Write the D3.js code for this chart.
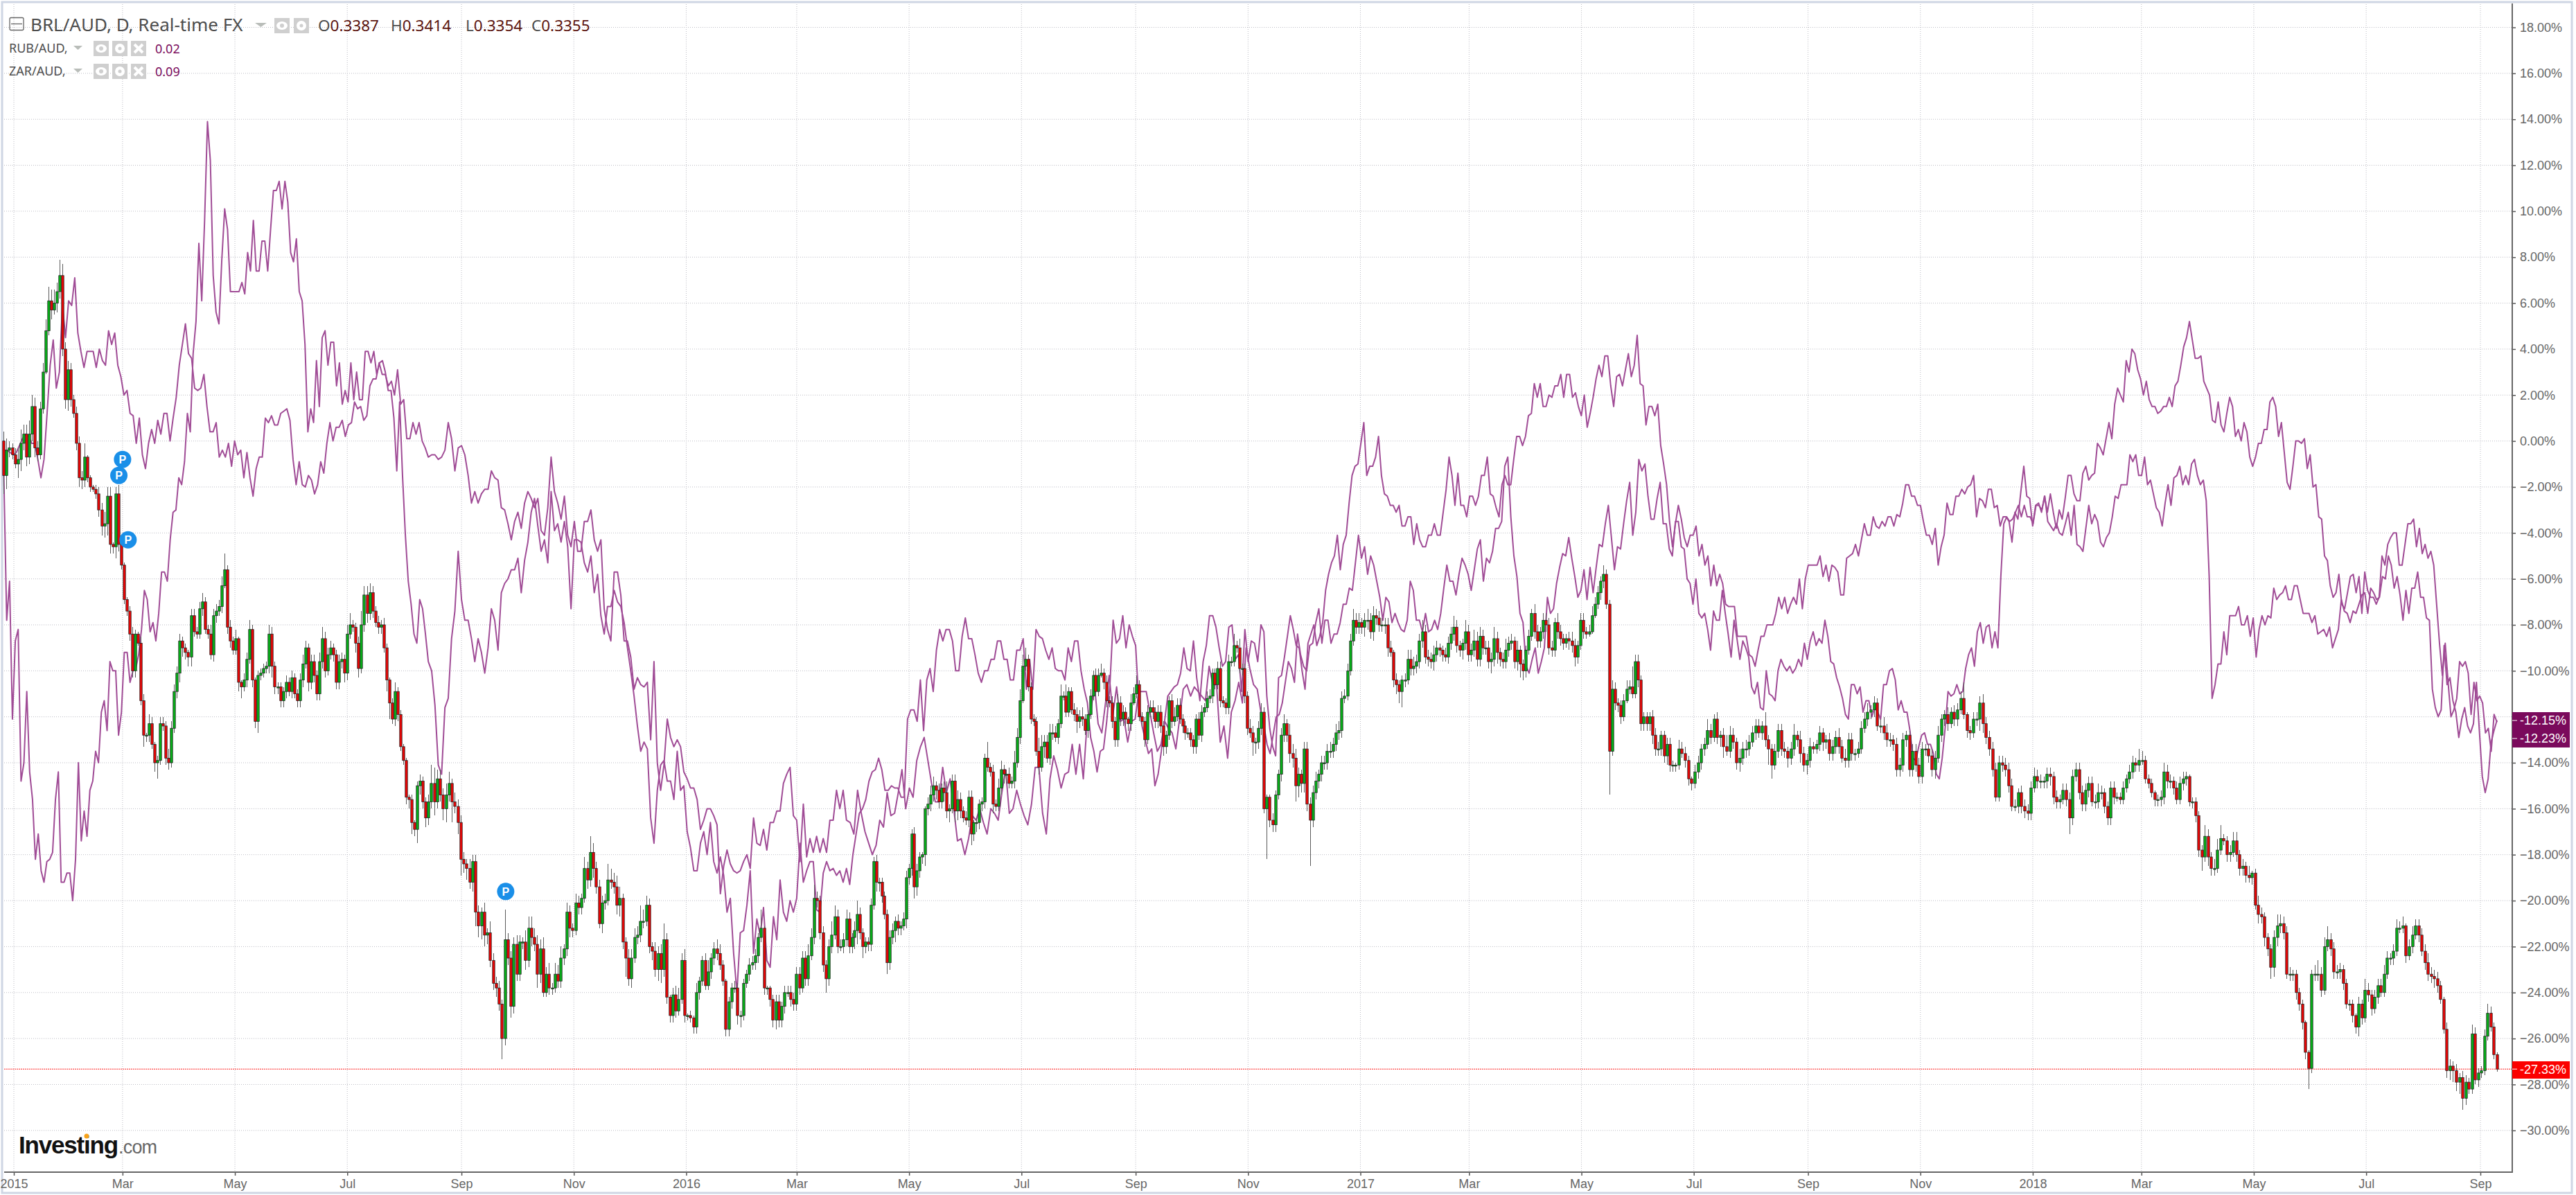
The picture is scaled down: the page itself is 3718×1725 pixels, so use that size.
<!DOCTYPE html>
<html>
<head>
<meta charset="utf-8">
<title>BRL/AUD</title>
<script src="https://cdnjs.cloudflare.com/ajax/libs/d3/7.8.5/d3.min.js"></script>
<style>
html,body{margin:0;padding:0;background:#fff;overflow:hidden}
svg{display:block}
</style>
</head>
<body>
<script>
// chart is read in six stretches, each pinned between two dates
var segDates=["2014-12-25","2015-08-14","2016-03-28","2016-11-08","2017-06-21","2018-02-02","2018-09-10"];

var tickDates=["2015-01-01","2015-03-01","2015-05-01","2015-07-01","2015-09-01","2015-11-01","2016-01-01","2016-03-01","2016-05-01","2016-07-01","2016-09-01","2016-11-01","2017-01-01","2017-03-01","2017-05-01","2017-07-01","2017-09-01","2017-11-01","2018-01-01","2018-03-01","2018-05-01","2018-07-01","2018-09-01"];
var tickLabels=["2015","Mar","May","Jul","Sep","Nov","2016","Mar","May","Jul","Sep","Nov","2017","Mar","May","Jul","Sep","Nov","2018","Mar","May","Jul","Sep"];
var pctTicks=[18,16,14,12,10,8,6,4,2,0,-2,-4,-6,-8,-10,-12,-14,-16,-18,-20,-22,-24,-26,-28,-30];

// BRL/AUD daily closes, percent from the start
var closeSeg1=[-1.5,-.4,-.3,-.6,-1,-.8,-.1,.3,-.7,.3,
1.5,-.3,-.6,1.4,3,4.8,6.1,5.7,6,6.5,
7.2,4,1.8,3.1,1.8,1.2,-.1,-1.6,-1.7,-.7,
-1.6,-2,-2.1,-2.3,-3,-3.7,-3.6,-2.4,-4.5,-4.6,
-2.3,-4.5,-5.4,-6.9,-7.4,-8.4,-10,-8.4,-8.8,-11.3,
-12.8,-12.8,-12.3,-13.2,-14,-13.9,-12.3,-12.4,-13.8,-14,
-12.5,-10.9,-10.1,-8.7,-9,-9.2,-9.4,-7.6,-8.3,-8.4,
-7.3,-7,-8.2,-8.4,-9.3,-7.6,-7.4,-7.2,-6.3,-5.6,
-8.1,-8.7,-9.1,-8.6,-10.5,-10.7,-10.4,-9.5,-8.2,-10.4,
-12.2,-10.2,-10.1,-9.9,-9.8,-8.4,-9.8,-10.7,-10.7,-11.3,
-10.9,-10.5,-10.9,-10.3,-11,-11.3,-10.4,-9.7,-9,-10.5,
-9.6,-10.2,-11,-9.6,-8.6,-10,-9.3,-9,-9.3,-10.5,
-9.6,-9.5,-10.1,-8.4,-8,-8.1,-8.8,-9.9,-8,-6.7,
-7.5,-6.6,-7.4,-7.9,-8.1,-8,-9,-10.4,-11.4,-12.1,
-10.9,-11.9,-13.3,-13.9,-15.5,-15.6,-16.6,-16.9,-15,-14.8,
-15.7,-16.4,-15.7];
var wickUpSeg1=[4,5,3,2,3,5,6,4,4,6,
5,4,3,3,4,5,6,5,6,4,
7,5,3,4,3,2,3,3,3,6,
1,1,1,2,3,3,5,4,4,1,
3,4,2,1,1,2,3,2,1,3,
3,1,4,3,1,2,3,3,2,4,
3,3,3,3,2,2,1,3,3,2,
3,4,2,2,4,3,3,3,4,7,
2,3,2,4,1,1,3,3,4,2,
1,2,2,2,2,4,3,2,2,2,
2,3,2,3,2,2,3,4,3,2,
3,3,2,4,5,3,3,3,2,2,
3,3,2,4,5,2,2,3,6,4,
4,4,3,2,3,2,3,2,1,2,
4,2,2,1,1,1,2,1,2,3,
2,2,3];
var wickDnSeg1=[8,6,3,2,2,6,5,3,4,3,
3,4,3,2,2,1,2,4,2,4,
3,3,4,5,3,2,3,4,4,3,
2,2,1,2,3,4,5,5,4,3,
5,3,2,2,2,3,3,3,1,2,
5,3,3,2,4,7,2,2,3,3,
2,2,3,4,4,3,4,4,2,2,
2,3,2,2,2,3,3,2,3,1,
3,3,2,2,4,5,2,3,2,3,
3,5,2,2,2,3,5,3,3,3,
3,3,2,3,2,3,3,3,2,4,
3,3,3,3,3,3,2,2,3,3,
3,3,4,3,2,2,4,4,2,3,
4,3,3,2,3,3,2,5,7,2,
3,3,2,2,3,4,5,3,6,4,
3,4,3];

var closeSeg2=[-14.9,-15.7,-14.7,-15.4,-16,-15.4,-14.9,-15.7,-15.9,-16.6,
-18.2,-18.4,-18.6,-19.2,-18.3,-20.5,-21.1,-20.5,-21.5,-21.4,
-22.6,-23.6,-23.8,-24.5,-26,-21.7,-22.5,-24.6,-21.9,-23.2,
-21.8,-21.8,-22.6,-21.2,-21.6,-21.9,-23.2,-22.1,-24,-23.2,
-23.8,-23.8,-23.2,-23.5,-22.5,-22.1,-20.5,-21.2,-21.3,-20.1,
-20.3,-19.9,-18.6,-19.1,-17.9,-18.6,-19.4,-21,-20.1,-20,
-19.1,-19.2,-19.4,-20.2,-19.9,-21.8,-22.5,-23.4,-22.5,-21.6,
-21.5,-20.9,-20.9,-20.2,-22,-22.2,-23,-22.3,-23,-21.7,
-24.2,-25,-24.1,-24.8,-24.3,-22.6,-25,-25,-25.1,-25.5,
-24,-23.5,-22.6,-23.7,-23.1,-22.5,-22.1,-22.3,-22.8,-23.5,
-25.6,-24.4,-23.8,-23.8,-25,-25,-23.6,-23.2,-22.8,-22.7,
-22.4,-21.6,-21.2,-23.8,-23.8,-24.3,-25.2,-24.4,-25.2,-24.6,
-24,-24,-24.3,-24.5,-23.2,-23.8,-22.5,-23.4,-22.4,-21.6,
-19.9,-20,-21.4,-22.8,-23.4,-22,-21.5,-20.7,-22,-22,
-21.7,-20.8];
var wickUpSeg2=[8,7,4,4,3,5,5,2,4,3,
3,3,2,4,3,3,3,2,4,2,
5,3,3,3,2,13,3,3,3,4,
3,2,5,5,5,4,4,4,5,3,
5,2,5,4,5,2,4,3,2,4,
3,2,5,3,7,4,3,3,3,3,
7,5,4,5,5,2,2,4,4,4,
4,7,5,4,3,2,4,3,4,7,
3,1,3,4,5,3,5,1,2,1,
4,2,2,3,5,2,3,4,4,2,
1,2,2,3,2,2,2,2,3,3,
3,2,8,1,1,1,2,3,3,2,
3,3,3,3,3,3,3,3,5,4,
6,3,2,3,2,3,6,5,3,3,
3,4];
var wickDnSeg2=[3,6,3,3,5,6,3,9,3,5,
7,4,5,3,4,6,5,6,5,4,
3,3,4,3,9,3,3,5,3,3,
3,3,4,3,4,3,6,4,2,2,
3,3,2,3,3,3,3,4,3,2,
3,3,2,4,3,4,3,2,4,3,
2,3,3,4,5,3,8,3,4,2,
3,3,3,2,3,4,3,5,6,3,
3,3,3,3,2,2,3,2,2,3,
3,3,2,2,2,3,3,3,2,2,
3,3,3,2,4,5,2,2,3,2,
3,3,2,3,3,3,3,4,3,3,
3,2,3,3,3,3,2,3,3,2,
3,3,3,3,6,3,3,2,3,2,
3,3];

var closeSeg3=[-22,-21.6,-21.3,-20.6,-21.4,-22,-21.8,-21.9,-20.2,-18.3,
-19.2,-19.2,-19.8,-20.6,-22.7,-21.6,-21.3,-20.9,-21.2,-21.1,
-20.8,-19,-18.6,-17.1,-19.4,-18.7,-18.1,-18,-16,-15.8,
-15.4,-15,-15.2,-15.7,-15.1,-15.3,-16.1,-16,-14.8,-16.1,
-15.6,-16.1,-16.4,-16.5,-15.5,-17.1,-16.6,-16.6,-15.8,-15.7,
-13.8,-14.2,-14.4,-15.8,-15.9,-15.1,-14.3,-14.5,-14.5,-14.9,
-14.8,-14,-12.9,-11.3,-9.8,-9.5,-10.7,-12.1,-12.2,-13.5,
-14.2,-13.3,-13.1,-13.8,-12.7,-12.7,-12.9,-12.3,-11.1,-11.1,
-11.8,-10.9,-11.7,-11.9,-12.2,-12,-12.1,-12.6,-11.9,-11.1,
-10.2,-10.9,-10.2,-10.1,-10.5,-11.3,-11.4,-12.2,-13,-11.4,
-12.1,-11.8,-12.1,-12.3,-11.4,-11,-10.6,-12,-12.2,-13,
-11.8,-11.6,-11.8,-12.2,-11.8,-12.4,-13.3,-12.8,-11.3,-12.2,
-12,-11.5,-12.1,-12.4,-12.7,-12.7,-13,-13.3,-12.1,-12.8,
-11.8,-11.6,-11.2,-11.1,-10.1,-10.6,-9.9,-11.3,-11.4,-11.6,
-9.6,-9.6,-8.9,-9,-9.9,-9.9,-11.1,-12.5,-12.7,-13.1,
-13.1,-12.5,-11.8];
var wickUpSeg3=[3,2,4,6,3,2,2,2,3,2,
3,2,2,2,2,3,3,2,3,2,
3,3,2,2,3,3,2,1,1,3,
4,4,2,3,2,3,5,2,3,3,
4,3,2,3,3,3,1,2,2,2,
2,7,2,3,2,4,4,2,2,3,
2,5,4,5,5,5,2,2,2,2,
6,5,3,3,4,4,3,2,5,2,
5,2,2,3,3,3,4,2,2,3,
2,3,3,4,2,3,2,3,2,4,
3,3,2,1,4,3,4,2,2,2,
3,3,3,2,3,3,2,2,2,3,
4,3,3,2,2,2,2,2,2,3,
3,2,3,3,2,2,3,3,2,2,
3,2,5,2,4,2,2,2,4,3,
2,3,4];
var wickDnSeg3=[3,3,5,6,3,5,3,3,3,2,
4,4,3,2,5,3,3,5,3,3,
2,4,3,3,5,4,3,3,5,3,
3,3,4,3,3,4,3,5,2,5,
4,3,2,2,3,5,3,4,3,3,
3,2,2,4,2,2,3,4,4,2,
2,3,2,3,1,2,2,2,2,2,
3,2,5,2,3,3,2,3,2,2,
2,2,2,3,5,3,3,2,3,2,
2,2,2,1,3,3,2,3,3,3,
3,3,3,3,3,1,2,2,2,3,
2,2,3,3,3,3,4,3,2,3,
2,2,2,3,3,2,3,3,3,2,
3,2,2,2,3,2,2,3,2,3,
3,2,2,2,2,3,3,3,2,6,
5,3,3];

var closeSeg4=[-16,-15.5,-16.5,-16.7,-15.4,-14.5,-12.8,-12.3,-12.8,-13.6,
-13.8,-15,-14.5,-14.9,-13.4,-15.8,-16.5,-15.3,-14.8,-14.5,
-14,-14,-13.5,-13.5,-13.2,-12.7,-12.6,-11.2,-11.1,-10,
-8.7,-7.8,-8.1,-7.9,-8.1,-7.8,-7.8,-8.3,-7.6,-7.7,
-8,-8,-8,-9,-9.2,-10.4,-10.6,-10.9,-10.4,-10.4,
-9.5,-9.9,-9.8,-9.6,-8.7,-8.3,-9.4,-9.5,-9.6,-9.3,
-9,-9.1,-9.3,-9.4,-8.8,-8.4,-8.1,-8.9,-9.1,-8.8,
-8.3,-9.3,-9.1,-8.7,-9.5,-8.5,-9,-9,-9.6,-9.5,
-8.6,-9.2,-9.5,-9.6,-9.1,-8.8,-8.7,-9.6,-9.1,-9.7,
-10,-9.1,-8.5,-7.5,-8.3,-8.7,-8.3,-7.8,-8,-9,
-9.1,-7.9,-8.3,-8.6,-8.8,-8.6,-8.7,-8.9,-9.4,-8.9,
-7.8,-8.3,-8.4,-8.3,-7.6,-7.1,-6.6,-6.1,-5.8,-7.1,
-13.5,-10.8,-11.4,-11.5,-12,-11.3,-10.8,-10.7,-11,-9.6,
-10.4,-12.3,-12,-12.3,-12,-12.8,-13.4,-13.4,-12.8,-13.7,
-13.2,-14.1,-14.1,-14.1];
var wickUpSeg4=[2,1,1,3,2,2,3,4,2,5,
4,4,3,2,3,3,3,3,4,2,
3,3,3,4,3,4,4,3,3,3,
3,5,3,4,2,3,5,3,4,3,
3,3,3,3,3,1,3,2,2,3,
4,4,4,3,3,5,3,3,3,4,
3,2,2,3,3,3,5,3,2,2,
5,3,3,5,4,4,3,3,3,3,
5,3,2,3,5,3,3,2,4,2,
2,2,3,2,4,3,2,3,3,3,
3,2,4,3,2,2,3,4,3,2,
3,3,2,3,4,3,3,2,4,2,
2,4,3,2,2,3,4,3,9,3,
3,2,2,2,2,3,3,3,2,2,
3,3,2,1];
var wickDnSeg4=[2,22,3,3,3,2,3,3,3,4,
4,7,5,4,4,3,20,3,3,3,
3,3,3,3,3,3,3,3,2,2,
2,2,3,3,3,4,4,3,4,3,
3,3,4,4,2,3,4,5,7,3,
2,3,3,3,3,3,3,3,3,4,
3,3,3,2,3,3,3,3,3,4,
3,3,3,3,3,3,3,3,3,5,
3,5,3,3,3,3,3,3,4,6,
4,3,2,2,3,3,3,3,3,3,
3,3,3,3,3,2,4,3,4,3,
2,3,2,1,1,1,2,3,3,2,
19,2,3,3,3,2,1,2,2,2,
3,3,3,3,3,4,3,3,3,3,
4,3,3,3];

var closeSeg5=[-13.4,-13.6,-13.9,-14.7,-14.9,-14.4,-14,-13.4,-13.2,-12.6,
-12.9,-12.1,-12.9,-12.8,-13.3,-13.5,-12.8,-13.1,-14,-13.8,
-13.4,-13.4,-13.1,-12.7,-12.4,-12.7,-12.4,-13,-13.4,-14.1,
-13.5,-12.6,-13.4,-13.5,-13.8,-13.4,-12.8,-13,-13.6,-14.1,
-13.9,-13.3,-13.4,-13.2,-12.7,-13.1,-13,-13.6,-13.3,-12.9,
-13.3,-13.8,-13.9,-13,-13.6,-13.6,-13.4,-12.5,-12.1,-11.8,
-11.7,-11.4,-12.4,-12.4,-12.7,-13,-13,-13.2,-14.3,-14.1,
-13,-12.8,-14.3,-13.5,-14.1,-14.6,-13.4,-13.4,-13.7,-14.3,
-13.8,-12.8,-12.1,-11.9,-12.3,-11.8,-12.1,-11.7,-11.2,-11.9,
-12.6,-12.7,-12.1,-12.1,-11.4,-12.3,-12.9,-13.4,-14.3,-15.5,
-14,-14.1,-14.3,-15,-15.9,-15.9,-15.3,-15.9,-16.1,-16.2,
-15.1,-14.6,-14.8,-14.8,-14.8,-14.5,-14.6,-15.5,-15.7,-15.6,
-15.2,-15.6,-16.4,-14.6,-14.3,-15.3,-15.8,-15.2,-14.9,-15.7];
var wickUpSeg5=[4,3,3,2,1,3,3,2,3,5,
3,2,3,2,3,5,4,3,2,4,
3,4,3,3,3,3,2,6,2,2,
3,3,3,3,2,3,5,2,4,3,
3,4,2,2,3,2,2,3,3,3,
4,3,4,3,3,2,3,3,3,4,
2,3,2,3,4,4,3,2,3,3,
3,2,2,3,3,3,3,2,2,3,
3,4,2,2,3,2,3,3,3,7,
1,2,3,3,3,4,3,3,3,3,
3,3,3,3,3,3,2,3,3,3,
3,4,3,3,2,3,3,2,3,2,
3,3,3,3,3,3,3,3,3,3];
var wickDnSeg5=[2,2,3,3,3,2,3,3,3,2,
3,2,3,4,5,2,3,3,3,4,
3,4,3,2,3,2,3,3,7,6,
2,3,3,3,4,3,3,3,4,3,
4,3,2,2,3,4,3,3,3,3,
3,2,3,3,3,3,2,2,2,3,
3,3,2,3,3,3,3,3,3,3,
3,3,3,3,3,3,3,3,3,3,
4,2,3,3,3,2,3,3,2,2,
3,3,2,3,5,4,3,3,3,2,
2,3,3,3,2,2,3,3,3,3,
3,2,3,3,3,3,4,3,3,3,
2,3,7,3,2,3,3,3,3,2];

var closeSeg6=[-15.7,-15.3,-15.3,-15.9,-16.4,-15.1,-15.5,-15.5,-15.6,-15.1,
-14.7,-14.4,-14,-14.1,-13.9,-13.9,-14.7,-14.9,-15.3,-15.6,
-15.6,-15.5,-14.4,-14.8,-14.8,-15.1,-15.6,-14.9,-14.7,-14.6,
-15.7,-15.7,-16.3,-17.8,-18.1,-17.2,-18.1,-18.6,-18.6,-17.8,
-17.3,-17.4,-18,-17.9,-17.4,-18,-18.6,-18.5,-18.9,-19,
-18.8,-20.2,-20.6,-20.7,-21.6,-22.1,-22.9,-21.6,-21.1,-21,
-21.4,-23.2,-23.2,-23.2,-24,-24.5,-25.3,-26.6,-27.3,-23.2,
-23.2,-23.2,-23.9,-22,-21.7,-22.1,-23.1,-23.1,-23,-23.6,
-24.5,-24.5,-25,-25.5,-24.5,-25.1,-23.9,-24.1,-24.7,-24.2,
-23.7,-24,-23.2,-22.5,-22.5,-22.2,-21.2,-21.2,-21.1,-22.4,
-22,-21.5,-21.1,-21.5,-22.2,-22.7,-23.2,-23.3,-23.4,-23.7,
-24.3,-25.6,-27.4,-27.2,-27.4,-27.9,-27.7,-28.6,-27.9,-28.2,
-25.8,-27.8,-27.5,-27.4,-25.9,-24.9,-25.5,-26.7,-27.33];
var wickUpSeg6=[3,4,3,2,2,3,3,2,2,3,
2,3,3,2,5,4,2,2,2,1,
2,3,4,3,3,2,3,3,3,2,
1,2,2,2,2,5,3,2,4,5,
6,2,2,3,4,4,2,3,2,4,
1,2,4,3,2,2,2,3,5,4,
3,3,3,2,2,2,2,1,1,2,
4,6,3,4,6,3,3,3,3,2,
2,2,2,1,3,2,5,3,2,3,
3,3,4,3,2,3,4,3,4,1,
3,4,3,3,3,3,4,3,3,3,
2,1,3,3,2,3,2,3,3,2,
4,3,2,2,3,4,3,2,1];
var wickDnSeg6=[3,3,3,3,3,3,3,2,2,2,
2,2,3,3,3,2,2,2,2,3,
3,3,3,3,3,3,2,2,3,3,
2,3,3,3,6,2,4,3,3,2,
2,2,3,3,2,3,3,3,3,2,
3,2,4,3,4,3,5,4,4,3,
3,2,3,3,3,3,3,3,9,2,
3,3,3,2,2,3,3,3,3,3,
2,3,3,3,4,3,2,3,3,2,
3,2,2,2,3,3,2,2,2,3,
2,3,2,3,2,3,3,3,4,3,
2,2,3,4,5,4,5,5,3,2,
2,2,3,2,2,2,2,2,1];

// RUB/AUD overlay
var rubSeg1=[-1.5,-7.8,-6.1,-12.1,-8.7,-8.2,-14.8,-14,-10.9,-14.4,
-15.6,-18.2,-17.1,-18.7,-19.2,-18.3,-18.2,-17.9,-15.6,-14.4,
-19.2,-19.2,-18.8,-18.8,-20,-18.2,-14,-17.4,-16.1,-17.2,
-15.2,-14.8,-13.5,-14,-11.8,-11.3,-12.6,-9.6,-10,-10,
-12.8,-11.8,-9.2,-9.2,-10.5,-10,-9.9,-9.3,-8.2,-6.5,
-6.9,-8.3,-7.9,-8.7,-7.5,-5.7,-5.7,-6.1,-4.3,-3.1,
-3,-1.6,-1.9,-.9,1.2,.4,3.8,5.2,8.6,6.1,
9.6,13.9,12.2,7.2,5.6,5.1,7.9,10.1,9.2,6.5,
6.5,6.5,6.5,6.9,6.4,8.2,7.4,9.6,7.4,7.4,
8.7,8.7,7.4,9.2,10.9,10.9,11.3,10.1,11.3,10.4,
8.2,7.8,8.8,6.5,6.1,4.2,.4,1.4,.8,3.5,
1.5,4.5,4.8,3.3,4.3,4.3,2.4,3.4,1.6,2.2,
1.7,3.4,1.8,3,1.8,1.8,3.9,3.9,3.4,3.9,
2.9,3.4,3.5,3,2.2,2.2,1,-1.3,1.7,-1.5,
-4.1,-6.1,-7.1,-8.4,-8.8,-6.9,-7.3,-8.4,-9.6];
var rubSeg2=[-10,-11.5,-14.1,-14.5,-11.6,-11.2,-8.6,-7.4,-4.8,-6.9,
-7.8,-7.8,-8.6,-9.6,-8.6,-9.2,-10.1,-9,-7.3,-7.8,
-9.1,-6.6,-6.2,-6,-5.6,-5.6,-5.1,-6.6,-5.2,-4.4,
-3.1,-2.5,-3.7,-4.8,-4.3,-5.3,-2.2,-3.9,-3.6,-4.4,
-3.5,-4.6,-7.3,-4.3,-4.3,-4.4,-5.3,-5.7,-5,-6.6,
-5.8,-7.6,-8.4,-7.2,-7.2,-6.5,-7,-7.2,-7.9,-9,
-10,-11.1,-12.4,-13.5,-13.1,-13.4,-16.4,-17.5,-15.2,-14.1,
-13.9,-14.8,-14.8,-15.6,-13.5,-15.2,-15,-17,-17.7,-18.7,
-18.7,-17.5,-17,-18,-16.6,-18.3,-18.8,-18.1,-18.9,-20.5,
-19.9,-22.3,-24,-21.4,-21.3,-20.2,-18.7,-22.3,-20.8,-21.5,
-20.3,-22.6,-22.9,-20.7,-21.7,-19.1,-20.5,-20.9,-20,-20.5,
-19.9,-17.5,-19.2,-18.7,-18.3,-18.3,-20.4,-20.5,-18.8,-18.3,
-18.7,-18.6,-18.9,-18.7,-19.2,-18.6];
var rubSeg3=[-19.3,-18,-17.1,-16.2,-16,-15.6,-14.8,-14.4,-14.3,-13.8,
-14.3,-15.2,-15.2,-15,-15.1,-15.1,-15.5,-15.5,-12.1,-11.7,
-11.7,-12.2,-10.4,-12.6,-10.4,-9.9,-10.9,-9.1,-8.2,-8.7,
-8.2,-8.2,-8.7,-10,-10,-8.5,-7.7,-8.6,-8.6,-9.3,
-10.1,-10.5,-10,-10,-9.5,-9.5,-8.7,-8.7,-9.5,-9.5,
-10.4,-10.4,-9.1,-9.1,-8.6,-10.8,-9.5,-10.8,-8.2,-8.5,
-8.6,-9.1,-9.5,-9,-9.9,-10,-10,-10.4,-9,-9.6,
-8.7,-8.7,-10,-10.8,-11.4,-12.9,-13.5,-14.4,-13.5,-13.4,
-12.2,-10.6,-7.8,-8.8,-8.6,-7.6,-9,-8,-8.5,-8.9,
-11.4,-12.4,-13,-13.6,-13.4,-15,-14.5,-13.5,-12.2,-11.1,
-10.9,-10.7,-10.6,-10.1,-9,-9.9,-10,-8.7,-10.3,-11.3,
-9.6,-8.9,-7.6,-7.6,-8.1,-9,-9.8,-9.6,-8.1,-8,
-9.5,-9.3,-10.9,-8.2,-9.6,-8.7,-8.8,-9.6,-8];
var rubSeg4=[-8.3,-11.1,-12.5,-13.3,-13.7,-10.3,-10.2,-9.4,-8.5,-7.6,
-8.2,-8.9,-9,-10,-10.8,-8.8,-8.4,-8,-8.9,-8.5,
-7.9,-6.5,-5.8,-5.3,-5,-4.1,-5.6,-4.5,-4.1,-2.7,
-1.5,-1.1,-1,-.1,.8,-1.5,-1.1,-1.1,-.7,.2,
-1.5,-2.3,-2.4,-2.8,-2.8,-3.1,-2.8,-3.7,-3.7,-3.3,
-3.3,-4.5,-3.6,-4.3,-4.6,-4.6,-4.1,-4.1,-3.6,-4.1,
-4.1,-3.1,-2.1,-.7,-1.5,-2.8,-1.4,-2.8,-2.8,-3.3,
-2.4,-2.4,-2.8,-2.4,-1.5,-1.5,-.7,-2.3,-2.4,-2.9,
-3.3,-1.9,-1.5,-1.9,-1.9,-.8,.2,.2,-.2,.2,
1.1,1.2,2.5,1.9,2.5,1.5,1.5,2,1.9,2.4,
2.4,2.9,1.9,2.9,2.9,1.9,2.1,1.5,1.1,2,
.6,1.2,1.9,2.7,3.3,2.8,3.7,3.7,2.4,1.5,
2.8,2.9,2.4,3.1,3.8,2.8,3.3,4.6,2.5,2.4,
.7,1.5,1.5,1.1,1.6,-.2,-1,-1.9,-3.5,-4.6,-3.6];
var rubSeg5=[-2.8,-3.4,-4.2,-4.6,-4.1,-4.1,-3.7,-5,-4.5,-5.4,
-5,-6.3,-5.4,-6.3,-5.8,-6.2,-7.1,-7.2,-7.2,-7.2,
-8.5,-8.5,-8.5,-8.5,-9.3,-9.4,-9.8,-9.1,-8.5,-8.5,
-8,-8,-8,-7.5,-6.8,-7.3,-6.8,-7.5,-7.1,-6.8,
-7.1,-6,-7.3,-6,-5.4,-5.4,-5.4,-5.4,-5,-5.9,
-5.4,-6.1,-5.4,-5.5,-5.7,-6.7,-6.7,-5.1,-5,-4.9,
-4.5,-5,-4.3,-3.6,-4.1,-4.1,-3.3,-3.7,-3.8,-3.5,
-3.7,-3.3,-3.3,-3.7,-3.2,-3.3,-2.7,-1.9,-1.9,-2.4,
-2.4,-2.8,-2.8,-3.5,-4.1,-4.1,-4.5,-3.8,-5.4,-4.6,
-4.1,-2.7,-3.2,-3.2,-2.4,-2.4,-2.1,-2.3,-2,-1.9,
-1.5,-3.3,-2.5,-2.6,-2.9,-2.1,-2.1,-2.9,-2.8,-3.7,
-3.3,-3.3,-3.5,-4.4,-3.1,-3.4,-2.2,-1.1,-2.4,-2.5,
-3.7,-2.8,-2.7,-3.1,-2.4,-3.1,-2.3,-3.1,-3.8,-3,
-3.4,-2.5,-1.5,-1.5,-2.3,-2.6,-2.6,-1.4,-1.1,-1.7,-1.5];
var rubSeg6=[-1.4,-.1,-.3,-.6,.1,.8,.1,1.6,2.3,2,
1.7,3.5,3,4,3.8,3.1,2.7,2,2.6,1.8,
1.5,1.5,1.2,1.3,1.5,1.5,1.9,1.5,2.4,2.6,
3.3,4.1,4.5,5.2,4.4,3.6,3.6,3.7,2.6,2.3,
2,.9,.8,1.7,.7,.4,1.2,1.9,1.5,.2,
.5,0,.8,.4,-.7,-1.1,-.7,-.1,-.1,.5,
.5,1.7,1.9,1.5,.2,.8,-.5,-1.8,-2.1,-1.1,
0,0,-.1,.1,-1.2,-.6,-2,-1.9,-3.3,-3.4,
-5,-5.2,-6.3,-6.8,-6.6,-5.8,-7.1,-7.3,-6.6,-5.9,
-5.8,-6.6,-5.9,-7.5,-5.7,-6.5,-6.8,-6.8,-7.1,-6.8,
-5,-5.4,-4.5,-4.2,-4,-4,-5.4,-5.4,-4.5,-3.6,
-3.6,-3.4,-4.6,-3.8,-4.9,-4.5,-5.1,-4.8,-5.4,-7.1,
-8.8,-10.2,-8.8,-10.5,-12,-11.7,-11.2,-9.6,-9.8,-9.6,
-10.1,-11.9,-10.5,-11.3,-11.1,-11.4,-12.7,-12.5,-13.5,-11.9,-12.23];

// ZAR/AUD overlay
var zarSeg1=[-.4,-.4,-.5,-.6,-.5,-.2,.1,.3,.2,-.1,
-.1,-.8,-1.6,-.8,1.2,3.3,4.4,2.3,3,5.9,
4.5,6.1,5.9,7.1,4.7,3.9,3.2,3.9,3.9,3.9,
3.2,4,3.5,3.3,4.8,4.2,4.7,3.3,2.8,2,
2.2,1.2,1.1,-.1,1,-.6,-1.2,-.1,.5,-.1,
.9,.3,1.2,1.2,0,1,1.9,3.3,4.2,5.1,
3.8,3.6,2.3,2.2,2.3,2.9,1.5,.4,.4,.8,
-.7,-.4,-.7,-.1,-1.1,0,-.6,-.4,-1.6,-.5,
-1.6,-2.4,-1.2,-.7,-.7,1,.8,1.1,.7,.7,
1.2,1.3,1.4,.9,-.8,-1.9,-.9,-1.9,-2,-1.5,
-1.7,-2.3,-1.9,-.9,-1.4,-.1,.8,0,.6,.6,
.9,.2,.7,.8,1.7,1.4,1.5,.9,1.1,2.4,
2.7,2.7,3.4,2.9,2.9,2.4,2.6,2,3.1,1.6,
1.8,.1,.1,.8,.3,.8,0,-.3,-.7];
var zarSeg2=[-.6,-.6,-.8,-.7,-.4,.8,.1,-1.3,-.3,-.2,
-.6,-1.5,-2.7,-2.2,-2.7,-2.3,-2.1,-2.1,-1.3,-1.6,
-1.7,-2.9,-3,-3.6,-4.3,-3.5,-3.1,-3.8,-2.7,-2.2,
-2.5,-2.9,-2.5,-3.9,-4.1,-2.9,-.7,-2.2,-2.7,-3.4,
-2.4,-4.1,-4.6,-3.5,-4.8,-4.8,-3.5,-3.5,-3,-4.3,
-4.8,-4.3,-7.3,-8.2,-8.7,-5.7,-5.7,-6.7,-8.7,-8.7,
-9.4,-10.8,-10.3,-10.6,-10.7,-10.5,-13,-9.6,-14,-15.2,
-14.1,-12.1,-12.9,-13.3,-13,-13.3,-14.4,-14.7,-15.1,-15.1,
-15.6,-16.9,-16.5,-16,-16,-16.3,-16.7,-19.7,-18.5,-17.8,
-18.4,-18.7,-18.8,-18.7,-18.3,-18,-18.6,-16.4,-17.5,-17.6,
-16.9,-17.8,-16.6,-16.6,-16.1,-16.1,-14.9,-14.5,-14.2,-16.3,
-16.5,-18.3,-15.8,-18.1,-17.3,-17.9,-17.2,-17.9,-17.3,-17.9,
-16.5,-16.5,-15.2,-16,-15.2,-16.5];
var zarSeg3=[-16.6,-17.1,-15.2,-16.2,-17,-17.5,-18,-17.6,-16.5,-16.8,
-15.3,-16.3,-16.2,-15.3,-14.3,-16,-15.1,-15.5,-13.9,-13.3,
-12.9,-13.9,-14.9,-15.7,-15.7,-14.2,-15.3,-14.7,-16,-17.4,
-17.3,-18,-17.3,-16.3,-16.5,-16,-16.6,-17.1,-16,-16.2,
-16.5,-15.3,-14.3,-16.2,-16,-15.2,-15.8,-16.3,-16.7,-15.8,
-14.2,-14.2,-16.2,-17.1,-14.7,-13.7,-14.3,-15.1,-14.5,-14.4,
-13.2,-14.5,-13.2,-14.7,-12.3,-11.8,-10.6,-12.3,-12.7,-11.4,
-10.2,-11.9,-10.7,-12.2,-12.1,-13.1,-12.2,-12.1,-10.9,-10.9,
-10.9,-11.8,-12.7,-13.5,-13.2,-12.2,-12.5,-12.7,-13.4,-12.1,
-10.8,-10.6,-11.1,-10.7,-10.9,-11.1,-11.3,-9.8,-10.6,-10.6,
-13.1,-12.4,-13.8,-11.8,-11.3,-10.5,-11.4,-9,-9.9,-10.6,
-10.8,-11.8];
var zarSeg4=[-12.4,-13.2,-13.6,-12.8,-12,-11.9,-11.4,-10.5,-9.6,-9.9,
-10.5,-8.4,-9.3,-9.8,-10,-8.9,-8.8,-7.9,-7.3,-8.8,
-7.8,-7.8,-8.8,-8.4,-8.4,-7.9,-7.1,-7.1,-6.4,-6.5,
-5.3,-4.1,-5.1,-4.6,-5.8,-5,-5.4,-6.1,-6.8,-7.8,
-6.8,-7,-7.9,-7.5,-7.9,-8.2,-8.3,-7.8,-6.1,-6.5,
-7.8,-7.8,-8.3,-7.5,-8.3,-8.2,-7.8,-8.2,-7.5,-6.4,
-5.4,-6.1,-6.1,-6.7,-5.8,-5.1,-5.4,-5.8,-6.5,-5.6,
-4.7,-4.3,-6.1,-5.1,-5.3,-4.8,-3.8,-3.8,-3.5,-1.1,
-.7,-3.3,-5,-5.9,-7.5,-7.9,-9.8,-10.1,-9.5,-9,
-10.1,-9.6,-9,-6.8,-7.5,-7.3,-6.2,-5.5,-4.9,-5,
-4.2,-5.1,-5.9,-6.8,-6.5,-5.6,-6.9,-5.5,-6.6,-5.5,
-4.5,-4.6,-3.6,-2.8,-4.2,-5.6,-4.6,-4.7,-3.6,-2.6,
-1.8,-4.1,-3.1,-.8,-1.3,-1,-2.4,-3.4,-3.4,-2.5,
-1.8,-3.6,-3.6,-4.7,-5,-3.5];
var zarSeg5=[-3.5,-4.6,-4.7,-6,-6.2,-7.1,-6,-7.5,-7.7,-7.5,
-8.2,-9.1,-7.4,-7.8,-7.8,-6.5,-7.5,-8.4,-9.4,-7.8,
-8.6,-9.5,-8.7,-9,-9.4,-10.7,-11,-10.5,-11.6,-11.7,
-10,-11,-11.1,-11.3,-10,-9.5,-9.8,-10,-9.8,-10.1,
-9.9,-9.5,-9.8,-8.8,-9.5,-8.7,-8.3,-8.9,-8.6,-8.8,
-7.8,-8.5,-9.6,-9.7,-10.3,-10.7,-11.2,-11.9,-12.1,-10.6,
-10.6,-11,-10.7,-11.8,-11.3,-11.3,-12,-11.6,-11.8,-12.1,
-10.6,-10.6,-10,-9.9,-10.4,-11.7,-11.3,-11.8,-11.8,-12.6,
-13.8,-13.9,-13.3,-12.8,-12.7,-13.2,-13.2,-13.6,-14.5,-14.7,
-13.8,-12.5,-10.9,-11.1,-11,-10.6,-11,-10.9,-9.9,-9.3,
-9,-9.8,-8.3,-7.9,-8.8,-8.1,-8,-9,-8.3,-9,
-5.9,-3.6,-3.3,-3.5,-3.4,-3.1,-2.8,-3.3,-2.8,-3.3,
-3.3,-3.6,-2.8,-2.8,-3,-2.4,-3.5,-3.7,-3.9,-3.6,
-4,-4.1,-3.6,-3.1,-4.1,-2.8,-4.5,-4.6,-4.8,-3.8,-2.8,-3.6];
var zarSeg6=[-3.2,-3.5,-4.4,-4.6,-4.2,-4,-3.3,-2.4,-2.5,-1.9,
-1.9,-1.9,-.6,-.9,-.6,-1.5,-1.5,-.7,-1.9,-1.7,
-2.3,-2.9,-3.1,-3.7,-2.7,-1.9,-2.8,-1.6,-1.5,-1.1,
-1.9,-1.5,-1.9,-1,-.8,-1.5,-1.9,-1.7,-2.6,-5.9,
-11.2,-10.6,-9.7,-9.7,-8.3,-9.3,-7.6,-7.6,-7.6,-7.2,
-8,-8,-7.6,-8.5,-7.7,-9.4,-8.2,-7.6,-8,-7.6,
-7.7,-6.4,-6.9,-6.7,-6.6,-6.3,-6.9,-6.9,-6.3,-6.3,
-6.9,-7.5,-7.5,-7.5,-7.9,-7.6,-8.4,-8.3,-8.2,-8.5,
-8.1,-9,-8.6,-8.2,-6.9,-7.4,-7.5,-7.9,-7.4,-7.5,
-7.1,-6.7,-6.6,-7.5,-6.4,-6.6,-6.9,-6.8,-5.9,-6,
-5,-5.4,-6.4,-5.9,-6.7,-7.8,-6.5,-7.5,-6.4,-6.4,
-5.7,-6.8,-6.8,-7.7,-7.8,-10.8,-11.6,-12,-11.7,-8.9,
-10.6,-10.3,-11.3,-11.8,-12.9,-12.1,-11.6,-12.4,-12.7,-12.3,
-10.5,-12.6,-14.6,-15.3,-14.7,-13.1,-12.6,-12.15];

// blue P event markers
var eventDates=["2015-03-01","2015-02-27","2015-03-04","2015-09-25"];
var eventPct=[-.8,-1.5,-4.3,-19.6];

var ohlcNames=["O","H","L","C"];
var ohlcValues=["0.3387","0.3414","0.3354","0.3355"];
var overlayNames=["RUB/AUD,","ZAR/AUD,"];
var overlayValues=["0.02","0.09"];

var width=3718,height=1725;
var plotRight=3626,plotBottom=1692;
var parse=d3.timeParse("%Y-%m-%d");

var svg=d3.select("body").append("svg").attr("width",width).attr("height",height)
    .style("font-family","'Liberation Sans',Arial,sans-serif");

var x=d3.scaleTime().domain([parse("2015-01-01"),parse("2018-09-01")]).range([20,3580]);
var y=d3.scaleLinear().domain([18,-30]).range([39.5,1631.8]);

// spread each stretch evenly between its two pinned dates
function place(segs){
    var out=[];
    segs.forEach(function(arr,s){
        var a=+parse(segDates[s]),b=+parse(segDates[s+1]);
        arr.forEach(function(v,i){
            out.push({date:new Date(a+(i+1)/arr.length*(b-a)),value:v,seg:s,i:i});
        });
    });
    return out;
}

var closeSegs=[closeSeg1,closeSeg2,closeSeg3,closeSeg4,closeSeg5,closeSeg6];
var upSegs=[wickUpSeg1,wickUpSeg2,wickUpSeg3,wickUpSeg4,wickUpSeg5,wickUpSeg6];
var dnSegs=[wickDnSeg1,wickDnSeg2,wickDnSeg3,wickDnSeg4,wickDnSeg5,wickDnSeg6];

var candles=place(closeSegs);
candles.forEach(function(d,k){
    d.close=d.value;
    d.open=k?candles[k-1].value:0;
    d.high=Math.max(d.open,d.close)+(upSegs[d.seg][d.i]||0)/10;
    d.low=Math.min(d.open,d.close)-(dnSegs[d.seg][d.i]||0)/10;
});

var rubLine=place([rubSeg1,rubSeg2,rubSeg3,rubSeg4,rubSeg5,rubSeg6]);
var zarLine=place([zarSeg1,zarSeg2,zarSeg3,zarSeg4,zarSeg5,zarSeg6]);

// frame
svg.append("rect").attr("x",3).attr("y",3).attr("width",3709).attr("height",1719)
    .attr("fill","#fff").attr("stroke","#cfd6e4").attr("stroke-width",3);

// grid
var grid=svg.append("g").attr("stroke","#bcbcc4").attr("stroke-dasharray","1,2");
grid.selectAll("line.h").data(pctTicks).enter().append("line").attr("class","h")
    .attr("x1",6).attr("x2",plotRight)
    .attr("y1",function(d){return y(d);}).attr("y2",function(d){return y(d);});
grid.selectAll("line.v").data(tickDates).enter().append("line").attr("class","v")
    .attr("x1",function(d){return x(parse(d));}).attr("x2",function(d){return x(parse(d));})
    .attr("y1",6).attr("y2",plotBottom);

// current price line
svg.append("line").attr("x1",6).attr("x2",plotRight)
    .attr("y1",y(-27.33)).attr("y2",y(-27.33))
    .attr("stroke","#ff2020").attr("stroke-dasharray","2,1");

// overlays sit under the candles
var line=d3.line().x(function(d){return x(d.date);}).y(function(d){return y(d.value);});
[rubLine,zarLine].forEach(function(series){
    svg.append("path").datum(series).attr("d",line)
        .attr("fill","none").attr("stroke","#a04c96").attr("stroke-width",2)
        .attr("stroke-linejoin","round");
});

// candles, snapped to whole pixels so the wicks stay dark
function barX(d){return Math.round(x(d.date))+.5;}
var bar=svg.append("g").selectAll("g").data(candles).enter().append("g");
bar.append("line")
    .attr("x1",barX).attr("x2",barX)
    .attr("y1",function(d){return y(d.high);}).attr("y2",function(d){return y(d.low);})
    .attr("stroke","#5a5a5a").attr("shape-rendering","crispEdges");
bar.append("rect")
    .attr("x",function(d){return barX(d)-1.7;})
    .attr("width",3.4)
    .attr("y",function(d){return y(Math.max(d.open,d.close));})
    .attr("height",function(d){return Math.max(1.5,Math.abs(y(d.open)-y(d.close)));})
    .attr("fill",function(d){return d.close>=d.open?"#05b518":"#f00404";})
    .attr("stroke","#222").attr("stroke-width",.8);

// P markers
var eventG=svg.append("g").selectAll("g").data(eventDates).enter().append("g")
    .attr("transform",function(d,i){return "translate("+x(parse(d))+","+y(eventPct[i])+")";});
eventG.append("circle").attr("r",12.5).attr("fill","#1a8fe8");
eventG.append("text").text("P").attr("text-anchor","middle").attr("dy","0.36em")
    .attr("fill","#fff").attr("font-weight","bold").attr("font-size",16);

// axes
var yAxis=d3.axisRight(y).tickValues(pctTicks).tickSize(5).tickPadding(6)
    .tickFormat(function(d){return d3.format(".2f")(d)+"%";});
var yG=svg.append("g").attr("transform","translate("+plotRight+",0)").call(yAxis);
var xAxis=d3.axisBottom(x).tickValues(tickDates.map(parse)).tickSize(5).tickPadding(5)
    .tickFormat(function(d,i){return tickLabels[i];});
var xG=svg.append("g").attr("transform","translate(0,"+plotBottom+")").call(xAxis);
[yG,xG].forEach(function(g){
    g.select(".domain").remove();
    g.selectAll(".tick line").attr("stroke","#555").attr("stroke-width",1.5);
    g.selectAll("text").attr("fill","#666").attr("font-size",18)
        .attr("font-family","'Liberation Sans',Arial,sans-serif");
});
svg.append("line").attr("x1",plotRight).attr("x2",plotRight).attr("y1",5).attr("y2",plotBottom+1)
    .attr("stroke","#666").attr("stroke-width",2);
svg.append("line").attr("x1",6).attr("x2",plotRight).attr("y1",plotBottom).attr("y2",plotBottom)
    .attr("stroke","#666").attr("stroke-width",2);

// price tags on the right
function priceTag(top,h,fill){
    svg.append("rect").attr("x",plotRight).attr("y",top).attr("width",83).attr("height",h).attr("fill",fill);
}
function tagText(label,cy){
    svg.append("line").attr("x1",plotRight).attr("x2",plotRight+7).attr("y1",cy).attr("y2",cy).attr("stroke","#fff");
    svg.append("text").text(label).attr("x",plotRight+11).attr("y",cy).attr("dy","0.36em")
        .attr("fill","#fff").attr("font-size",18);
}
priceTag(1028,51,"#7a0a5c");
tagText("-12.15%",1040);
tagText("-12.23%",1066);
priceTag(1532,25,"#fb0000");
tagText("-27.33%",y(-27.33));

// legend
var legendFont="'Noto Sans',sans-serif";
function iconBox(px,py,kind){
    var g=svg.append("g").attr("transform","translate("+px+","+py+")");
    g.append("rect").attr("width",22).attr("height",22).attr("fill","#cfcfcf");
    if(kind=="eye"){
        g.append("ellipse").attr("cx",11).attr("cy",11).attr("rx",8).attr("ry",6).attr("fill","#fff");
        g.append("circle").attr("cx",11).attr("cy",11).attr("r",3).attr("fill","#cfcfcf");
    }else if(kind=="gear"){
        g.append("circle").attr("cx",11).attr("cy",11).attr("r",7).attr("fill","#fff");
        g.append("circle").attr("cx",11).attr("cy",11).attr("r",2.5).attr("fill","#cfcfcf");
    }else{
        g.append("path").attr("d","M5 5L17 17M17 5L5 17").attr("stroke","#fff").attr("stroke-width",4);
    }
}
function dropArrow(px,py,w){
    svg.append("path").attr("d","M"+px+" "+py+"h"+w+"l"+(-w/2)+" 6z").attr("fill","#b9bdb9");
}
svg.append("rect").attr("x",14).attr("y",25.5).attr("width",20).attr("height",18).attr("rx",2)
    .attr("fill","none").attr("stroke","#666").attr("stroke-width",1.3);
svg.append("line").attr("x1",16).attr("x2",32).attr("y1",34.5).attr("y2",34.5).attr("stroke","#666").attr("stroke-width",1.3);
svg.append("text").text("BRL/AUD, D, Real-time FX").attr("x",44).attr("y",45)
    .attr("font-family",legendFont).attr("font-size",26).attr("fill","#4d4d4d");
dropArrow(368,33,17);
iconBox(396,26,"eye");
iconBox(424,26,"gear");
var ohlcX=[459,564,672,767];
ohlcNames.forEach(function(n,i){
    var t=svg.append("text").attr("x",ohlcX[i]).attr("y",45).attr("font-family",legendFont).attr("font-size",22.5);
    t.append("tspan").text(n).attr("fill","#4d4d4d");
    t.append("tspan").text(ohlcValues[i]).attr("fill","#5c1510");
});
overlayNames.forEach(function(n,i){
    var base=76+i*33;
    svg.append("text").text(n).attr("x",13).attr("y",base).attr("font-family",legendFont)
        .attr("font-size",18).attr("fill","#4d4d4d");
    dropArrow(106,base-10,13);
    iconBox(135,base-17,"eye");
    iconBox(162,base-17,"gear");
    iconBox(189,base-17,"close");
    svg.append("text").text(overlayValues[i]).attr("x",224).attr("y",base+1).attr("font-family",legendFont)
        .attr("font-size",18).attr("fill","#7a0a5c");
});

// watermark
svg.append("text").text("Investing").attr("x",27).attr("y",1665)
    .attr("font-family","'Liberation Sans',Arial,sans-serif").attr("font-weight","bold")
    .attr("font-size",35).attr("letter-spacing",-1.2).attr("fill","#111");
svg.append("text").text(".com").attr("x",171).attr("y",1665)
    .attr("font-family","'Liberation Sans',Arial,sans-serif")
    .attr("font-size",27).attr("letter-spacing",-.8).attr("fill","#666");
svg.append("circle").attr("cx",125).attr("cy",1640).attr("r",3.5).attr("fill","#f7a21b");
</script>
</body>
</html>
